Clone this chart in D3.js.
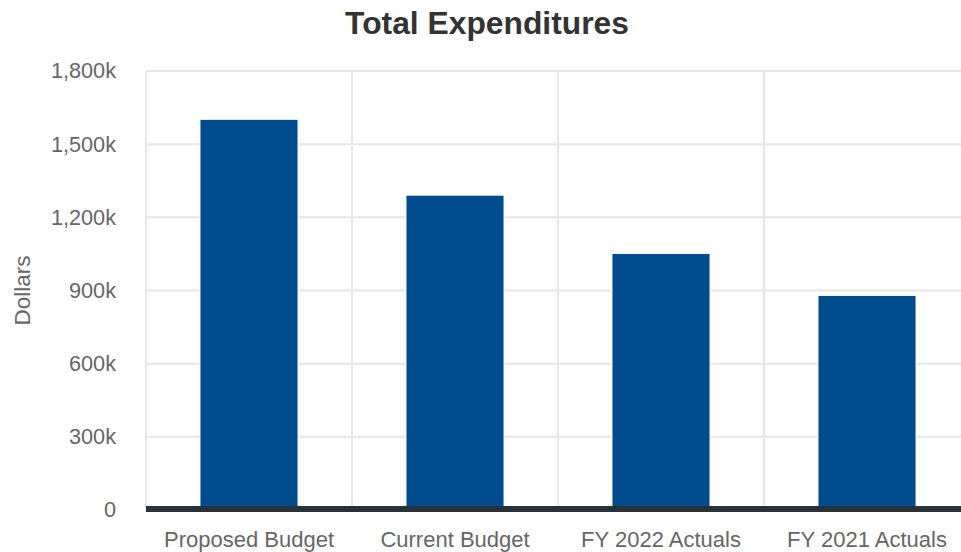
<!DOCTYPE html>
<html>
<head>
<meta charset="utf-8">
<script src="https://cdn.jsdelivr.net/npm/d3@7"></script>
<style>
  body { margin: 0; background: #fff; }
  text { font-family: "Liberation Sans", Arial, sans-serif; }
</style>
</head>
<body>
<div id="chart"></div>
<script>
// chart data
const categories = ["Proposed Budget", "Current Budget", "FY 2022 Actuals", "FY 2021 Actuals"];
const expenditures = [1602000, 1291000, 1052000, 880000];
const yTicks = [0, 300000, 600000, 900000, 1200000, 1500000, 1800000];

const w = 961, h = 552;
const plotLeft = 146, plotRight = 970, plotTop = 71, plotBottom = 510;

const svg = d3.select("#chart").append("svg")
    .attr("width", w)
    .attr("height", h);

const xScale = d3.scaleBand()
    .domain(categories)
    .range([plotLeft, plotRight])
    .paddingInner(0.524)
    .paddingOuter(0.262);

const yScale = d3.scaleLinear()
    .domain([0, 1800000])
    .range([plotBottom, plotTop]);

// horizontal grid
svg.append("g")
    .selectAll("line")
    .data(yTicks)
    .enter()
    .append("line")
    .attr("x1", plotLeft)
    .attr("x2", plotRight)
    .attr("y1", (d) => yScale(d))
    .attr("y2", (d) => yScale(d))
    .attr("stroke", "#e6e6e6")
    .attr("stroke-width", 2);

// vertical grid at band edges
const edges = categories.map((c) => xScale(c) - xScale.step() * xScale.paddingOuter());
svg.append("g")
    .selectAll("line")
    .data(edges)
    .enter()
    .append("line")
    .attr("x1", (d) => d)
    .attr("x2", (d) => d)
    .attr("y1", plotTop)
    .attr("y2", plotBottom)
    .attr("stroke", "#e6e6e6")
    .attr("stroke-width", 2);

// bars
svg.append("g")
    .selectAll("rect")
    .data(expenditures)
    .enter()
    .append("rect")
    .attr("x", (d, i) => xScale(categories[i]))
    .attr("y", (d) => yScale(d))
    .attr("width", xScale.bandwidth())
    .attr("height", (d) => yScale(0) - yScale(d))
    .attr("fill", "#004b8d")
    .attr("stroke", "#ffffff")
    .attr("stroke-width", 1);

// baseline
svg.append("line")
    .attr("x1", plotLeft)
    .attr("x2", plotRight)
    .attr("y1", yScale(0) - 1)
    .attr("y2", yScale(0) - 1)
    .attr("stroke", "#263238")
    .attr("stroke-width", 6);

// y axis labels
const yAxis = svg.append("g")
    .attr("transform", "translate(" + (plotLeft - 30) + ",0)")
    .call(d3.axisLeft(yScale)
        .tickValues(yTicks)
        .tickSize(0)
        .tickPadding(0)
        .tickFormat((d) => d === 0 ? "0" : d3.format(",")(d / 1000) + "k"));
yAxis.select(".domain").remove();
yAxis.selectAll("text")
    .attr("font-size", "21.7px")
    .attr("fill", "#666666")
    .attr("font-family", "Liberation Sans, Arial, sans-serif");

// x axis labels
const xAxis = svg.append("g")
    .attr("transform", "translate(0," + (plotBottom + 21) + ")")
    .call(d3.axisBottom(xScale).tickSize(0).tickPadding(0));
xAxis.select(".domain").remove();
xAxis.selectAll("text")
    .attr("font-size", "22px")
    .attr("fill", "#666666")
    .attr("font-family", "Liberation Sans, Arial, sans-serif");

// y axis title
svg.append("text")
    .attr("transform", "translate(30," + ((plotTop + plotBottom) / 2) + ") rotate(-90)")
    .attr("text-anchor", "middle")
    .attr("font-size", "22.5px")
    .attr("fill", "#666666")
    .text("Dollars");

// title
svg.append("text")
    .attr("x", 487)
    .attr("y", 34)
    .attr("text-anchor", "middle")
    .attr("font-size", "31.8px")
    .attr("font-weight", "bold")
    .attr("fill", "#333333")
    .text("Total Expenditures");
</script>
</body>
</html>
